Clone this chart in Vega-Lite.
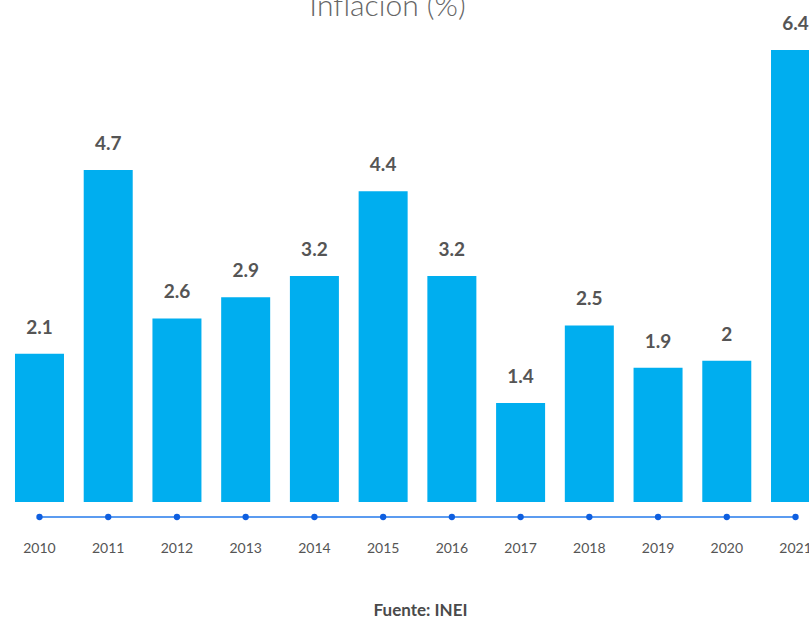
{
  "$schema": "https://vega.github.io/schema/vega-lite/v6.json",
  "width": 809,
  "height": 517,
  "autosize": "none",
  "padding": {"left": 0, "top": 0, "right": 0, "bottom": 104},
  "background": "white",
  "config": {"view": {"stroke": null}},
  "title": {"text": "Inflación (%)", "fontSize": 30, "font": "Lato", "fontWeight": 300, "color": "#666666", "offset": -22, "dx": -17, "anchor": "middle"},
  "data": {"values": [
    {"anio": "2010", "inflacion": 2.1},
    {"anio": "2011", "inflacion": 4.7},
    {"anio": "2012", "inflacion": 2.6},
    {"anio": "2013", "inflacion": 2.9},
    {"anio": "2014", "inflacion": 3.2},
    {"anio": "2015", "inflacion": 4.4},
    {"anio": "2016", "inflacion": 3.2},
    {"anio": "2017", "inflacion": 1.4},
    {"anio": "2018", "inflacion": 2.5},
    {"anio": "2019", "inflacion": 1.9},
    {"anio": "2020", "inflacion": 2},
    {"anio": "2021", "inflacion": 6.4}
  ]},
  "encoding": {
    "x": {
      "field": "anio", "type": "ordinal",
      "scale": {"range": [0, 835], "paddingInner": 0.287, "paddingOuter": 0.218},
      "title": "Fuente: INEI",
      "axis": {
        "labelAngle": 0, "ticks": false, "domain": false, "labelPadding": 24,
        "labelFont": "Lato", "labelFontSize": 14, "labelColor": "#555555", "labelFontWeight": "normal",
        "titleFont": "Lato", "titleFontSize": 17, "titleFontWeight": "bold", "titleColor": "#4a4a4a",
        "titlePadding": 47, "titleX": 420
      }
    }
  },
  "layer": [
    {
      "mark": {"type": "bar", "color": "#00AEEF"},
      "encoding": {
        "y": {"field": "inflacion", "type": "quantitative", "scale": {"domain": [-0.2124, 7.108], "zero": false, "nice": false}, "axis": null},
        "y2": {"datum": 0}
      }
    },
    {
      "mark": {"type": "text", "dy": -26, "font": "Lato", "fontSize": 19, "fontWeight": "bold", "color": "#555555"},
      "encoding": {
        "y": {"field": "inflacion", "type": "quantitative"},
        "text": {"field": "inflacion", "type": "quantitative"}
      }
    },
    {
      "mark": {"type": "line", "color": "#5b9bf0", "strokeWidth": 2},
      "encoding": {"y": {"datum": -0.2124}}
    },
    {
      "mark": {"type": "point", "filled": true, "color": "#0f5fe0", "size": 40, "opacity": 1},
      "encoding": {"y": {"datum": -0.2124}}
    }
  ]
}
